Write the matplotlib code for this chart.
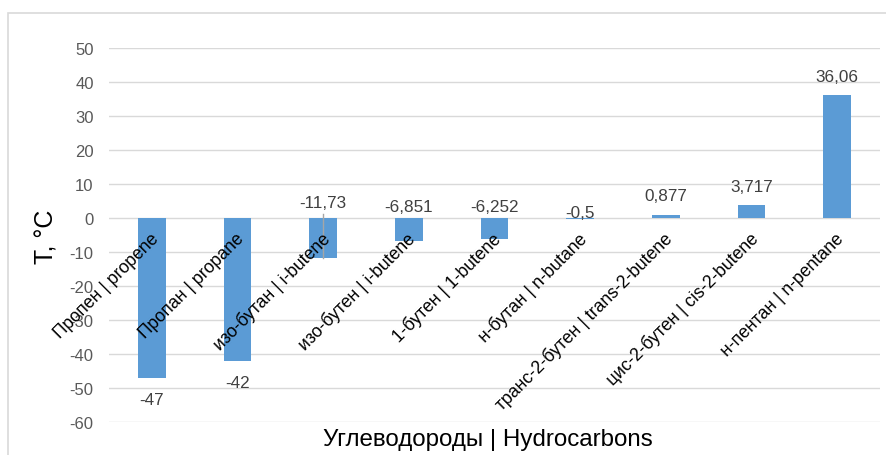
import matplotlib
matplotlib.use("Agg")
import matplotlib.pyplot as plt
from matplotlib.patches import Rectangle

plt.rcParams['font.family'] = ['Liberation Sans', 'DejaVu Sans']

categories = ["Пропен | propene", "Пропан | propane", "изо-бутан | i-butene",
              "изо-бутен | i-butene", "1-бутен | 1-butene", "н-бутан | n-butane",
              "транс-2-бутен | trans-2-butene", "цис-2-бутен | cis-2-butene",
              "н-пентан | n-pentane"]
values = [-47, -42, -11.73, -6.851, -6.252, -0.5, 0.877, 3.717, 36.06]
value_labels = ["-47", "-42", "-11,73", "-6,851", "-6,252", "-0,5", "0,877", "3,717", "36,06"]
y_ticks = list(range(-60, 51, 10))

bar_color = "#5B9BD5"
grid_color = "#D9D9D9"
tick_color = "#595959"
label_color = "#404040"

fig = plt.figure(figsize=(8.87, 4.56), dpi=100)
W, H = 887, 456
ax = fig.add_axes([109 / W, (H - 422.7) / H, (880 - 109) / W, (422.7 - 48.7) / H])

x = list(range(len(categories)))
ax.bar(x, values, width=0.32, color=bar_color, zorder=3)

ax.set_xlim(-0.5, len(categories) - 0.5)
ax.set_ylim(-60, 50)
ax.set_yticks(y_ticks)
ax.set_yticklabels([str(t) for t in y_ticks], fontsize=12, color=tick_color)
ax.tick_params(axis='y', length=0, pad=11)
ax.set_xticks([])
for s in ax.spines.values():
    s.set_visible(False)
ax.grid(axis='y', color=grid_color, linewidth=1, zorder=0)
ax.set_axisbelow(True)

# category labels along the zero line
for i, c in enumerate(categories):
    ax.annotate(c, xy=(i, 0), xytext=(4, -18), textcoords='offset pixels',
                rotation=45, rotation_mode='anchor', ha='right', va='center',
                fontsize=12.7, color='black', zorder=5)

# value labels
small_neg_offsets = {2: 15, 3: 11, 4: 11, 5: 5}
for i, (v, t) in enumerate(zip(values, value_labels)):
    if v < -20:
        ax.annotate(t, xy=(i, v), xytext=(0, -22), textcoords='offset pixels',
                    ha='center', va='center', fontsize=12.3, color=label_color)
    elif v < 0:
        dy = small_neg_offsets.get(i, 11)
        ax.annotate(t, xy=(i, 0), xytext=(0, dy), textcoords='offset pixels',
                    ha='center', va='center', fontsize=12.3, color=label_color)
    else:
        ax.annotate(t, xy=(i, v), xytext=(0, 19), textcoords='offset pixels',
                    ha='center', va='center', fontsize=12.3, color=label_color)

# leader line for the -11,73 label
ax.plot([2, 2], [values[2], 1], color='#A6A6A6', lw=1.0, zorder=4)

ax.set_xlabel("Углеводороды | Hydrocarbons", fontsize=17.4, color='black')
ax.xaxis.set_label_coords(0.492, -0.045)
ax.xaxis.label.set_va('center')
fig.text(47 / W, (H - 236.5) / H, "T, °C", fontsize=18, color='black',
         rotation=90, ha='center', va='center')

fig.patches.append(Rectangle((8 / W, -0.2), 1.0, (H - 14) / H + 0.2,
                             transform=fig.transFigure, fill=False,
                             edgecolor=grid_color, linewidth=1.2))

fig.savefig("out.png", dpi=100)
